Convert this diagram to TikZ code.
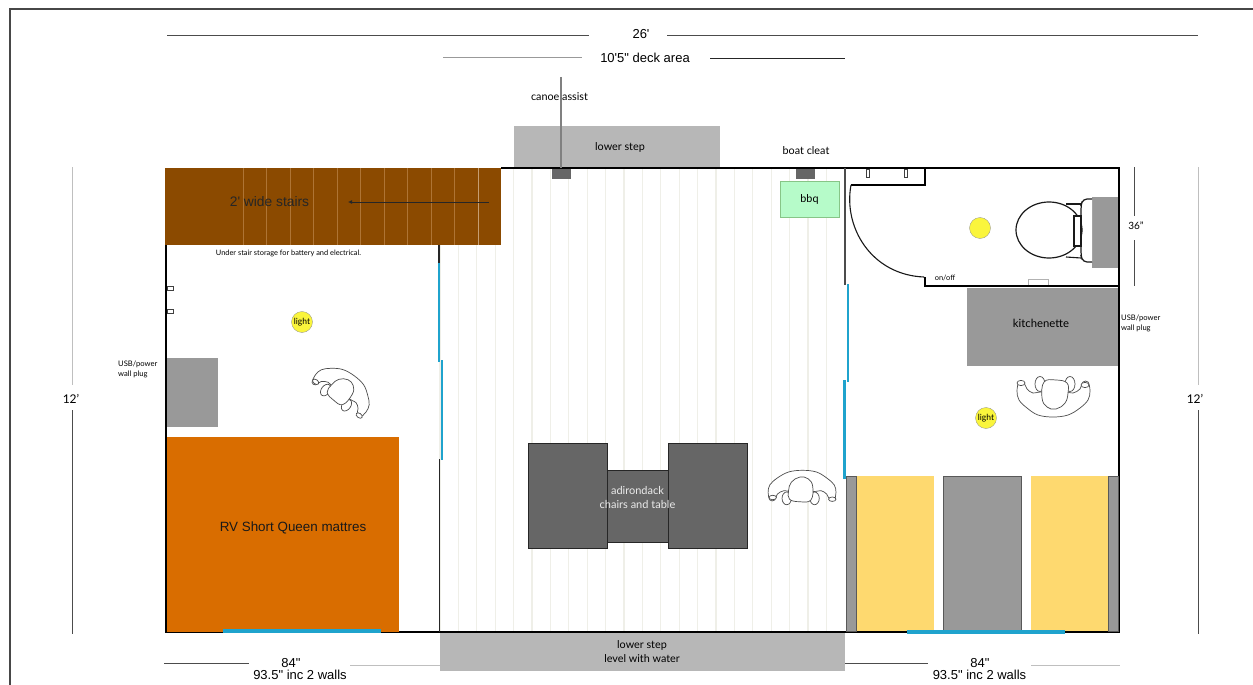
\documentclass[tikz,border=0pt]{standalone}
\usepackage{fontspec}
\usetikzlibrary{arrows.meta}
\setmainfont{Lato}
\newfontfamily\arialf{Liberation Sans}
\definecolor{stairc}{HTML}{8B4A00}
\definecolor{stairl}{HTML}{AE7434}
\definecolor{matc}{HTML}{D96D00}
\definecolor{stepc}{HTML}{B7B7B7}
\definecolor{dkgray}{HTML}{666666}
\definecolor{mdgray}{HTML}{999999}
\definecolor{bluec}{HTML}{1FA3CD}
\definecolor{yellowc}{HTML}{FED96F}
\definecolor{lampc}{HTML}{FAF53C}
\definecolor{bbqc}{HTML}{B6FBC9}
\definecolor{deckc}{HTML}{EFEFE8}
\tikzset{
  wall/.style={line width=2.2pt,black},
  thinwall/.style={line width=1.2pt,black!85},
  glass/.style={line width=2.8pt,bluec},
  dimdark/.style={line width=0.9pt,black!70},
  dimlight/.style={line width=0.9pt,black!25},
  stair line/.style={line width=0.7pt,stairl},
  deck line/.style={line width=1.3pt,deckc},
  furn/.style={fill=mdgray,draw=none},
  counter/.style={fill=mdgray,draw=black!65,line width=0.8pt},
  adk/.style={fill=dkgray,draw=black!85,line width=1pt},
  lamp/.style={circle,fill=lampc,draw=black!45,line width=0.3pt,inner sep=0pt,minimum size=21pt},
  lbl/.style={inner sep=0pt,align=center,font=\fontsize{10.8}{14}\selectfont},
  small lbl/.style={inner sep=0pt,align=left,anchor=west,font=\fontsize{7.6}{10}\selectfont},
  dim lbl/.style={inner sep=0pt,align=center,font=\arialf\fontsize{13}{12}\selectfont},
  chairline/.style={line width=0.7pt,black!70,fill=white},
  chair/.pic={
    \draw[chairline] plot[smooth cycle,tension=0.6] coordinates {(-34,-13)(-36,-4)(-34,5)(-26,13)(-15,20)(0,22)(15,20)(27,13)(35,5)(37,-4)(35,-13)(30,-13)(27,-6)(20,-2)(12,-3)(-12,-3)(-20,-2)(-26,-6)(-29,-12)};
    \draw[chairline] (-32,-12) circle[x radius=4,y radius=2.6];
    \draw[chairline] (32,-10) circle[x radius=4,y radius=2.6];
    \draw[chairline] (-13,-11) circle[x radius=5,y radius=7.5];
    \draw[chairline] (17,-11) circle[x radius=5,y radius=7.5];
    \draw[chairline] plot[smooth cycle,tension=0.7] coordinates {(-9,-13)(3,-15)(14,-12)(15,-2)(12,8)(3,14)(-6,12)(-11,3)};
  }
}
\begin{document}
\begin{tikzpicture}[x=1pt,y=-1pt]
\useasboundingbox (0,0) rectangle (1253,685);
\fill[white] (0,0) rectangle (1253,685);
% frame
\draw[line width=1.6pt,black!72] (10,685) -- (10,9) -- (1253,9);
% deck boards
\foreach \x in {440,458.4,476.8,495.2,513.6,532,550.4,568.8,587.2,605.6,624,642.4,660.8,679.2,697.6,716,734.4,752.8,771.2,789.6,808,826.4}
  \draw[deck line] (\x,168) -- (\x,632);
% steps
\fill[stepc] (514,126) rectangle (720,168);
\fill[stepc] (440,632) rectangle (845,671);
\node[lbl] (lowerstep) at (620,147) {lower step};
\node[lbl] (lowerstepb) at (642,652) {lower step\\level with water};
% stairs
\fill[stairc] (165,168) rectangle (501,245);
\foreach \x in {243,266,290,313,337,360,384,407,431,454}
  \draw[stair line] (\x,168) -- (\x,245);
\draw[line width=1pt,stairl!70!white] (478,168) -- (478,245);
\coordinate (arrS) at (489,202);
\coordinate (arrE) at (348,202);
\draw[line width=0.8pt,black!85,-{Latex[length=4pt,width=4pt]}] (arrS) -- (arrE);
\node[inner sep=0pt,font=\arialf\fontsize{13.8}{14}\selectfont,text=black!85] (stairs) at (269.5,202) {2' wide stairs};
\node[inner sep=0pt,font=\fontsize{7.4}{9}\selectfont] (under) at (288.5,253.5) {Under stair storage for battery and electrical.};
% walls
\draw[wall] (501,168) -- (1119,168) -- (1119,632) -- (166,632) -- (166,245);
\draw[thinwall] (439,245) -- (439,264);
\draw[thinwall] (439.5,459) -- (439.5,632);
\draw[line width=1.2pt,black!70] (845,168) -- (845,285);
% canoe assist and cleat
\fill[dkgray] (552,169) rectangle (571,179);
\fill[dkgray] (796,169) rectangle (815,179);
\node[lbl] (canoe) at (559.5,96.5) {canoe assist};
\draw[line width=1.2pt,black!50] (561,77) -- (561,168);
\node[lbl] (cleat) at (806,151) {boat cleat};
% bbq
\node[fill=bbqc,draw=green!35!gray!70,line width=0.6pt,minimum width=59pt,minimum height=36pt,inner sep=0pt,font=\fontsize{10.8}{12}\selectfont] (bbq) at (809.5,199) {bbq};
% left room furniture
\fill[furn] (167,358) rectangle (218,427);
\fill[matc] (167,437) rectangle (399,632);
\node[inner sep=0pt,font=\arialf\fontsize{13.4}{14}\selectfont,text=black!90] (mattress) at (293,528) {RV Short Queen mattres};
\draw[line width=1pt,black!75] (167,286) rectangle (173,290);
\draw[line width=1pt,black!75] (167,309) rectangle (173,313);
\node[lamp,font=\fontsize{8.5}{10}\selectfont] (lightA) at (302,322) {light};
\node[small lbl] (usbL) at (118,369) {USB/power\\wall plug};
\path (343,391) pic[rotate=144,scale=0.86] {chair};
% bathroom
\draw[wall,line width=1.6pt] (925,168) -- (925,185) -- (851,185);
\draw[line width=1.1pt,black!90] (851,185) .. controls (843,228) and (872,275) .. (924,277);
\draw[wall] (925,277) -- (925,286) -- (1119,286);
\draw[line width=0.8pt,black!75] (866,169) rectangle (869,177);
\draw[line width=0.8pt,black!75] (904,169) rectangle (907,177);
\node[inner sep=0pt,font=\fontsize{7.4}{9}\selectfont] (onoff) at (945,278) {on/off};
\draw[line width=0.5pt,black!30] (1028.5,285) -- (1028.5,279) -- (1048,279) -- (1048,285);
\node[circle,fill=lampc,draw=black!45,line width=0.3pt,inner sep=0pt,minimum size=21pt] (lightB) at (980,228) {};
\fill[furn] (1092,197) rectangle (1118,268);
\draw[line width=1.2pt,black!90,fill=white,rounded corners=4pt] (1092,199) -- (1083,199) -- (1081,205) -- (1081,256) -- (1083,262) -- (1092,262);
\draw[line width=1.1pt,black!90] (1066,204) -- (1081,204);
\draw[line width=1.1pt,black!90] (1066,257) -- (1081,258);
\draw[line width=1.2pt,black!90,fill=white] (1049,230) ellipse[x radius=33,y radius=28];
\draw[line width=1.2pt,black!90,fill=white] (1074,216) rectangle (1081,246);
% kitchen
\node[fill=mdgray,minimum width=151pt,minimum height=78pt,inner sep=0pt] (kitchen) at (1042.5,327) {};
\node[inner sep=0pt,font=\fontsize{11.3}{12}\selectfont] (kitchenl) at (1041,323) {kitchenette};
\node[small lbl] (usbR) at (1121,323.5) {USB/power\\wall plug};
\node[lamp,font=\fontsize{8.5}{10}\selectfont] (lightC) at (986,418) {light};
\path (1053,395) pic {chair};
% bunks
\fill[yellowc] (857,476) rectangle (934,631);
\fill[yellowc] (1031,476) rectangle (1108,631);
\draw[counter] (846,476) rectangle (856,631);
\draw[counter] (943,476) rectangle (1021,631);
\draw[counter] (1108,476) rectangle (1118,631);
% glass
\draw[glass] (439,263) -- (439,362);
\draw[glass] (442,360) -- (442,460);
\draw[glass] (848,284) -- (848,382);
\draw[glass] (844.5,380) -- (844.5,479);
\draw[glass,line width=3.2pt] (223,631) -- (381,631);
\draw[glass,line width=3.2pt] (907,632) -- (1065,632);
% adirondack
\draw[adk] (607,470) rectangle (668,542);
\draw[adk] (528,443) rectangle (607,548);
\draw[adk] (668,443) rectangle (747,548);
\node[lbl,text=white!92!black,font=\fontsize{11}{13.5}\selectfont] (adk) at (637.5,497.5) {adirondack\\chairs and table};
\path (802.5,489) pic[rotate=180,xscale=0.93,yscale=0.85] {chair};
% dimensions
\coordinate (a1) at (167,35); \coordinate (a2) at (589,35);
\coordinate (a3) at (667,35); \coordinate (a4) at (1198,35);
\draw[dimdark] (a1) -- (a2); \draw[dimdark] (a3) -- (a4);
\node[dim lbl] (d26) at (641,34) {26'};
\coordinate (b1) at (443,57); \coordinate (b2) at (582,57);
\coordinate (b3) at (710,58); \coordinate (b4) at (845,58);
\draw[dimlight,black!40] (b1) -- (b2); \draw[dimdark,black!85] (b3) -- (b4);
\node[dim lbl] (d10) at (645,58) {10'5" deck area};
\coordinate (c1) at (72,167); \coordinate (c2) at (72,385);
\coordinate (c3) at (72,410); \coordinate (c4) at (72,634);
\draw[dimlight] (c1) -- (c2); \draw[dimdark] (c3) -- (c4);
\node[lbl,font=\fontsize{12}{14}\selectfont] (d12L) at (71,399) {12'};
\coordinate (e1) at (1198,167); \coordinate (e2) at (1198,385);
\coordinate (e3) at (1198,410); \coordinate (e4) at (1198,634);
\draw[dimlight] (e1) -- (e2); \draw[dimdark] (e3) -- (e4);
\node[lbl,font=\fontsize{12}{14}\selectfont] (d12R) at (1195,399) {12'};
\coordinate (f1) at (1134,167); \coordinate (f2) at (1134,216);
\coordinate (f3) at (1134,240); \coordinate (f4) at (1134,286);
\draw[dimdark] (f1) -- (f2); \draw[dimdark] (f3) -- (f4);
\node[lbl,font=\fontsize{10}{12}\selectfont] (d36) at (1136,226) {36"};
\coordinate (g1) at (164,663); \coordinate (g2) at (249,663);
\coordinate (g3) at (350,665); \coordinate (g4) at (440,665);
\draw[dimdark] (g1) -- (g2); \draw[dimlight] (g3) -- (g4);
\node[dim lbl] (d84L) at (291,663) {84"};
\node[dim lbl] (d93L) at (300,675) {93.5" inc 2 walls};
\coordinate (h1) at (845,663); \coordinate (h2) at (928,663);
\coordinate (h3) at (1031,665); \coordinate (h4) at (1120,665);
\draw[dimdark] (h1) -- (h2); \draw[dimlight] (h3) -- (h4);
\node[dim lbl] (d84R) at (980,663) {84"};
\node[dim lbl] (d93R) at (979.5,674.5) {93.5" inc 2 walls};
\end{tikzpicture}
\end{document}
